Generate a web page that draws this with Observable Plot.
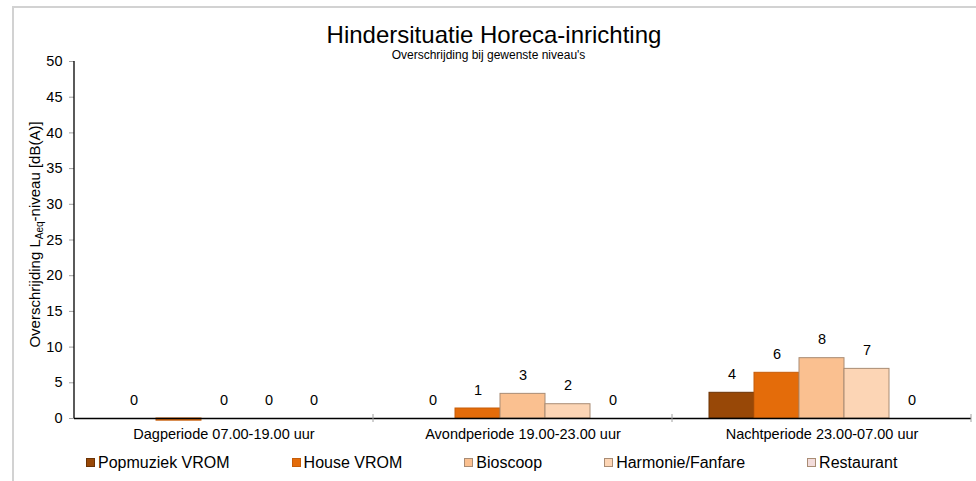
<!DOCTYPE html>
<html>
<head>
<meta charset="utf-8">
<script src="https://cdn.jsdelivr.net/npm/d3@7"></script>
<script src="https://cdn.jsdelivr.net/npm/@observablehq/plot@0.6"></script>
<style>
  html, body { margin: 0; padding: 0; background: #fff; }
  #wrap { position: relative; width: 976px; height: 481px; overflow: hidden; font-family: "Liberation Sans", Arial, sans-serif; color: #000; }
  #frame { position: absolute; left: 12px; top: 6px; width: 980px; height: 500px; border-top: 2px solid #d2d2d2; border-left: 2px solid #d2d2d2; box-sizing: border-box; }
  #chart { position: absolute; left: 0; top: 0; }
  .title { position: absolute; text-align: center; white-space: nowrap; pointer-events: none; }
  #title { left: 194px; width: 600px; top: 24.7px; font-size: 24px; line-height: 20px; }
  #subtitle { left: 188.5px; width: 600px; top: 50px; font-size: 12px; line-height: 10px; }
  #legend { position: absolute; left: 86px; top: 454.5px; display: flex; gap: 62px; font-size: 16px; line-height: 16px; white-space: nowrap; }
  #legend .item { display: flex; align-items: center; }
  #legend .sw { width: 9px; height: 9px; box-sizing: border-box; border: 1px solid; margin-right: 3px; }
</style>
</head>
<body>
<div id="wrap">
  <div id="frame"></div>
  <div id="chart"></div>
  <div class="title" id="title">Hindersituatie Horeca-inrichting</div>
  <div class="title" id="subtitle">Overschrijding bij gewenste niveau's</div>
  <div id="legend"></div>
</div>
<script>
// ---- data ----
const periods = ["Dagperiode 07.00-19.00 uur", "Avondperiode 19.00-23.00 uur", "Nachtperiode 23.00-07.00 uur"];
const series = ["Popmuziek VROM", "House VROM", "Bioscoop", "Harmonie/Fanfare", "Restaurant"];
const popmuziek = [0, 0, 3.6];
const house = [-0.3, 1.4, 6.4];
const bioscoop = [0, 3.45, 8.45];
const harmonie = [0, 2.0, 6.95];
const restaurant = [0, 0, 0];
const yTicks = [0, 5, 10, 15, 20, 25, 30, 35, 40, 45, 50];
const yLabelMain = "Overschrijding L";
const yLabelSub = "Aeq";
const yLabelRest = "-niveau [dB(A)]";

// ---- styles ----
const fills = ["#984807", "#E46C0A", "#FAC090", "#FCD5B5", "#F2DCDB"];
const strokes = ["#6b3305", "#c65d09", "#a98c74", "#a98c74", "#a98c74"];

const valuesBySeries = [popmuziek, house, bioscoop, harmonie, restaurant];
const rows = [];
periods.forEach((p, i) => series.forEach((s, j) => rows.push({period: p, series: s, value: valuesBySeries[j][i], si: j})));

const fmt = d3.format(".0f");
const fontStack = "'Liberation Sans', Arial, sans-serif";

const plot = Plot.plot({
  width: 976,
  height: 445,
  marginLeft: 74,
  marginRight: 5,
  marginTop: 61,
  marginBottom: 27,
  style: {fontFamily: fontStack, fontSize: "14.5px", color: "#000", background: "transparent", overflow: "visible"},
  fx: {domain: periods, padding: 0, label: null},
  x: {domain: series, paddingInner: 0, paddingOuter: 0.76, axis: null},
  y: {domain: [0, 50], label: null},
  marks: [
    Plot.axisY({ticks: yTicks, tickSize: 5, tickPadding: 7, stroke: "#a0a0a0", fontSize: 14.5, label: null}),
    Plot.axisFx({anchor: "bottom", tickSize: 0, tickPadding: 10, fontSize: 14.5, label: null}),
    Plot.barY(rows.filter(d => d.value !== 0), {
      fx: "period", x: "series", y: "value",
      fill: d => fills[d.si], stroke: d => strokes[d.si], strokeWidth: 1
    }),
    Plot.ruleY([0], {stroke: "#000", strokeWidth: 1.3}),
    Plot.text(rows.filter(d => d.value >= 0), {
      fx: "period", x: "series", y: "value",
      text: d => fmt(d.value), dy: -18.5, fontSize: 14.5, fill: "#000"
    })
  ]
});
document.getElementById("chart").appendChild(plot);

// axis line, category boundary ticks and y label, positioned via the plot's own scales
const fxS = plot.scale("fx");
const yS = plot.scale("y");
const svg = d3.select(plot);
const x0 = fxS.range[0];
svg.append("line")
  .attr("x1", x0).attr("x2", x0)
  .attr("y1", yS.apply(0)).attr("y2", yS.apply(50))
  .attr("stroke", "#000").attr("stroke-width", 1.3);
periods.forEach(p => {
  const xb = fxS.apply(p) + fxS.bandwidth;
  svg.append("line")
    .attr("x1", xb).attr("x2", xb)
    .attr("y1", yS.apply(0) - 4).attr("y2", yS.apply(0) + 4)
    .attr("stroke", "#a0a0a0").attr("stroke-width", 1);
});
const yl = svg.append("text")
  .attr("transform", `translate(39.5,${(yS.apply(0) + yS.apply(50)) / 2 - 5}) rotate(-90)`)
  .attr("text-anchor", "middle")
  .attr("font-size", 15)
  .attr("font-family", fontStack)
  .attr("fill", "#000");
yl.append("tspan").text(yLabelMain);
yl.append("tspan").attr("font-size", 10).attr("dy", 3).text(yLabelSub);
yl.append("tspan").attr("dy", -3).text(yLabelRest);

// legend
const legend = d3.select("#legend");
series.forEach((s, i) => {
  const it = legend.append("div").attr("class", "item");
  it.append("div").attr("class", "sw").style("background", fills[i]).style("border-color", strokes[i]);
  it.append("span").text(s);
});
</script>
</body>
</html>
